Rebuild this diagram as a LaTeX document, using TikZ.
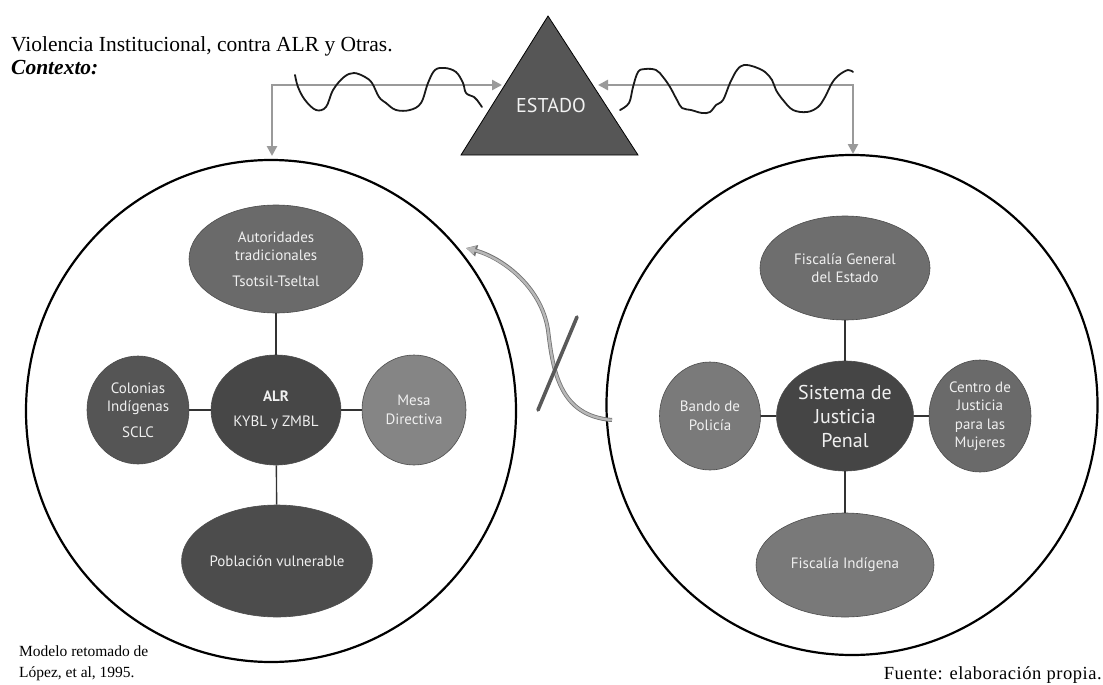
\documentclass[tikz,border=0pt]{standalone}
\usepackage{fontspec}
\setmainfont{Liberation Serif}
\newfontfamily\nodefont{PT Sans}
\usetikzlibrary{shapes.geometric,arrows.meta}
\definecolor{triC}{HTML}{565656}
\definecolor{cAut}{HTML}{6A6A6A}
\definecolor{cAlr}{HTML}{474747}
\definecolor{cCol}{HTML}{555555}
\definecolor{cMesa}{HTML}{858585}
\definecolor{cPob}{HTML}{4C4C4C}
\definecolor{cFge}{HTML}{6E6E6E}
\definecolor{cSis}{HTML}{454545}
\definecolor{cBan}{HTML}{7A7A7A}
\definecolor{cCen}{HTML}{6A6A6A}
\definecolor{cFin}{HTML}{797979}
\definecolor{arrC}{HTML}{9A9A9A}
\begin{document}
\begin{tikzpicture}[x=1pt,y=-1pt,
  bub/.style={ellipse, draw=black!70, line width=0.6pt, inner sep=0pt, align=center,
              text=white!94!black, font=\nodefont\fontsize{15}{18.5}\selectfont},
  conn/.style={draw=black!80, line width=1.4pt},
  bigc/.style={ellipse, draw=black, line width=2.2pt, inner sep=0pt},
  garrow/.style={draw=arrC, line width=2.6pt,
                 {Triangle[length=10pt,width=10pt]}-{Triangle[length=10pt,width=10pt]}},
  wave/.style={draw=black!90, line width=1.8pt, line cap=round, line join=round},
  serif/.style={inner sep=0pt, text=black}
]
\useasboundingbox (0,0) rectangle (1103,685);

% titles
\node[serif, anchor=west, font=\fontsize{21.5}{24}\selectfont] (title) at (11,46) {Violencia Institucional, contra ALR y Otras.};
\node[serif, anchor=west, font=\bfseries\itshape\fontsize{21.5}{24}\selectfont] (ctx) at (11,68) {Contexto:};

% big circles
\node[bigc, minimum width=490, minimum height=502] (lc) at (271,411) {};
\node[bigc, minimum width=491, minimum height=500] (rc) at (852,405) {};

% state triangle
\draw[fill=triC, draw=black, line width=0.8pt] (548,16) -- (461,155) -- (638,155) -- cycle;
\node[inner sep=0pt, text=white!95!black, font=\nodefont\fontsize{20}{24}\selectfont] (estado) at (551,105) {ESTADO};

% arrows from the state
\coordinate (tl) at (502,85);
\coordinate (lt) at (272,156);
\coordinate (tr) at (598,85);
\coordinate (rt) at (853,154);
\draw[garrow] (tl) -| (lt);
\draw[garrow] (tr) -| (rt);

% wavy lines
\draw[wave] plot[smooth, tension=0.6] coordinates {(295,75) (298,87) (305,100) (316,110) (326,107) (333,90) (344,77) (354,73) (365,77) (372,83) (379,97) (386,103) (396,110) (410,110) (421,103) (428,83) (435,70) (445,68) (456,72) (463,83) (466,93) (474,97) (477,100) (482,107)};
\draw[wave] plot[smooth, tension=0.6] coordinates {(620,110) (629,103) (633,87) (638,72) (645,69) (656,70) (663,77) (670,87) (677,100) (682,108) (691,110) (702,113) (710,112) (716,105) (723,100) (730,83) (737,70) (744,65) (755,67) (765,72) (772,80) (776,90) (783,100) (793,110) (807,112) (818,107) (825,97) (832,83) (839,75) (848,70) (853,72)};

% left cluster
\node[bub, fill=cAut, minimum width=174, minimum height=108] (aut) at (276,259) {Autoridades\\tradicionales\\[7pt]Tsotsil-Tseltal};
\node[bub, fill=cAlr, minimum width=130, minimum height=110] (alr) at (276,410) {\textbf{ALR}\\[7pt]KYBL y ZMBL};
\node[bub, fill=cCol, minimum width=102, minimum height=108] (col) at (138,410) {Colonias\\Indígenas\\[7pt]SCLC};
\node[bub, fill=cMesa, minimum width=104, minimum height=110] (mesa) at (414,410) {Mesa\\Directiva};
\node[bub, fill=cPob, minimum width=182, minimum height=112] (pob) at (277,561) {Población vulnerable};
\draw[conn] (aut) -- (alr);
\draw[conn] (col) -- (alr);
\draw[conn] (alr) -- (mesa);
\draw[conn] (alr) -- (pob);

% right cluster
\node[bub, fill=cFge, minimum width=170, minimum height=104] (fge) at (845,268) {Fiscalía General\\del Estado};
\node[bub, fill=cSis, minimum width=137, minimum height=110, font=\nodefont\fontsize{20}{24}\selectfont] (sis) at (845,416) {Sistema de\\Justicia\\Penal};
\node[bub, fill=cBan, minimum width=101, minimum height=108] (ban) at (710,416) {Bando de\\Policía};
\node[bub, fill=cCen, minimum width=102, minimum height=112] (cen) at (980,416) {Centro de\\Justicia\\para las\\Mujeres};
\node[bub, fill=cFin, minimum width=178, minimum height=104] (fin) at (845,565) {Fiscalía Indígena};
\draw[conn] (fge) -- (sis);
\draw[conn] (ban) -- (sis);
\draw[conn] (sis) -- (cen);
\draw[conn] (sis) -- (fin);

% blocked link between the two systems
\coordinate (ca) at (612,420);
\coordinate (cb) at (466,248);
\draw[draw=black!55, line width=4pt, -{Triangle[length=11pt,width=11pt]}] (ca) .. controls (560,416) and (553,372) .. (548,330) .. controls (541,285) and (500,257) .. (cb);
\draw[draw=arrC!70!white, line width=2.4pt, -{Triangle[length=9pt,width=8pt]}] (ca) .. controls (560,416) and (553,372) .. (548,330) .. controls (541,285) and (500,257) .. (cb);
\draw[draw=black!65, line width=3.6pt, line cap=round] (577,317) -- (538,410);

% notes
\node[serif, anchor=north west, align=left, font=\fontsize{15.5}{21}\selectfont] (model) at (19,646) {Modelo retomado de\\López, et al, 1995.};
\node[serif, anchor=base east, font=\addfontfeature{LetterSpace=3}\fontsize{18.5}{22}\selectfont] (fuente) at (1102,679) {Fuente: elaboración propia.};
\end{tikzpicture}
\end{document}
